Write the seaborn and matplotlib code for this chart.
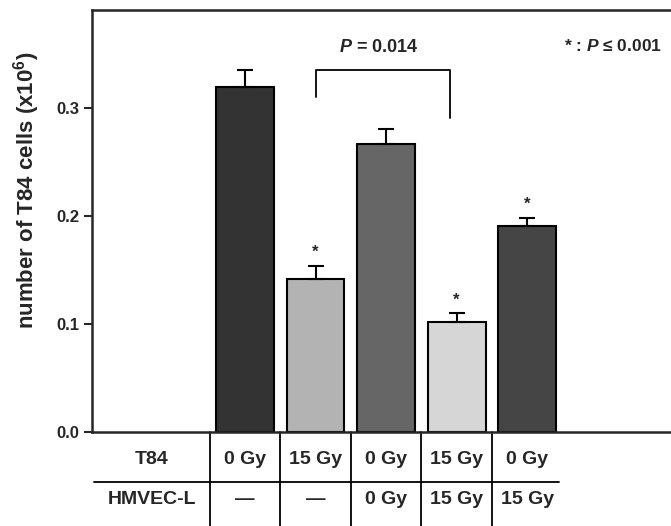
import numpy as np
import pandas as pd
import matplotlib
matplotlib.use("Agg")
import matplotlib.pyplot as plt
import matplotlib.transforms as mtransforms
import seaborn as sns

# ---- data -------------------------------------------------------------
groups = ["A", "B", "C", "D", "E"]
cell_counts = [0.320, 0.142, 0.267, 0.102, 0.191]      # x10^6 cells
sem = [0.015, 0.012, 0.014, 0.008, 0.0075]
bar_colors = ["#333333", "#b3b3b3", "#666666", "#d6d6d6", "#454545"]
significant = [False, True, False, True, True]

t84_dose = ["0 Gy", "15 Gy", "0 Gy", "15 Gy", "0 Gy"]
hmvec_dose = ["\u2014", "\u2014", "0 Gy", "15 Gy", "15 Gy"]
row_names = ["T84", "HMVEC-L"]
y_ticks = [0.0, 0.1, 0.2, 0.3]

# ---- style ------------------------------------------------------------
sns.set_style("ticks")
plt.rcParams["font.family"] = ["Liberation Sans", "DejaVu Sans"]
plt.rcParams["font.weight"] = "bold"
plt.rcParams["mathtext.fontset"] = "custom"
plt.rcParams["mathtext.rm"] = "Liberation Sans:bold"
plt.rcParams["mathtext.bf"] = "Liberation Sans:bold"
plt.rcParams["mathtext.it"] = "Liberation Sans:italic:bold"
plt.rcParams["mathtext.default"] = "rm"

fig = plt.figure(figsize=(6.71, 5.26), dpi=100)
ax = fig.add_axes([92 / 671, 1 - 432 / 526, 1 - 92 / 671, (432 - 10) / 526])

df = pd.DataFrame({"group": groups, "count": cell_counts})
sns.barplot(data=df, x="group", y="count", hue="group", order=groups,
            palette=dict(zip(groups, bar_colors)), legend=False,
            width=0.82, edgecolor="black", linewidth=1.5, ax=ax)

xpos = np.arange(len(groups))
ax.errorbar(xpos, cell_counts, yerr=[np.zeros(len(groups)), sem], fmt="none",
            ecolor="black", elinewidth=1.5, capsize=6, capthick=1.5, zorder=3)

# significance stars
for x, v, e, s in zip(xpos, cell_counts, sem, significant):
    if s:
        ax.text(x, v + e + 0.0125, "*", ha="center", va="center",
                fontsize=12, fontweight="bold")

# bracket between second and fourth bars
ax.plot([1, 1, 2.9, 2.9], [0.310, 0.335, 0.335, 0.291], color="black", lw=1.3)
ax.text(1.9, 0.356, r"$\mathit{P}$ = 0.014", ha="center", va="center", fontsize=13)
ax.text(4.52, 0.358, "* : $\\mathit{P}$ \u2264 0.001", ha="left", va="center",
        fontsize=12.5)

# axes
ax.set_xlim(-2.17, 6.04)
ax.set_ylim(0, 0.391)
ax.set_yticks(y_ticks)
ax.set_yticklabels([f"{t:.1f}" for t in y_ticks], fontsize=12, fontweight="bold")
ax.set_xticks([])
ax.set_xlabel("")
ax.set_ylabel(r"number of T84 cells (x10$^{6}$)", fontsize=16, fontweight="bold")
ax.yaxis.set_label_coords(-0.086, (432 - 190) / 422)
ax.tick_params(axis="y", direction="out", length=6, width=1.5, pad=3)
for side in ["left", "top", "bottom"]:
    ax.spines[side].set_linewidth(1.8)
ax.spines["right"].set_visible(False)

# treatment table under the bars
trans = mtransforms.blended_transform_factory(ax.transData, ax.transAxes)
for b in np.arange(-0.5, 4.0, 1.0):
    ax.plot([b, b], [0, -0.23], color="black", lw=1.3, transform=trans, clip_on=False)
ax.plot([-2.14, 4.45], [-0.1185, -0.1185], color="black", lw=1.3,
        transform=trans, clip_on=False)
row_y = [-0.066, -0.161]
for name, y in zip(row_names, row_y):
    ax.text(-1.32, y, name, ha="center", va="center", fontsize=14,
            fontweight="bold", transform=trans, clip_on=False)
for x, a, b in zip(xpos, t84_dose, hmvec_dose):
    ax.text(x, row_y[0], a, ha="center", va="center", fontsize=14,
            fontweight="bold", transform=trans, clip_on=False)
    ax.text(x, row_y[1], b, ha="center", va="center", fontsize=14,
            fontweight="bold", transform=trans, clip_on=False)

fig.savefig("out.png", dpi=100)
